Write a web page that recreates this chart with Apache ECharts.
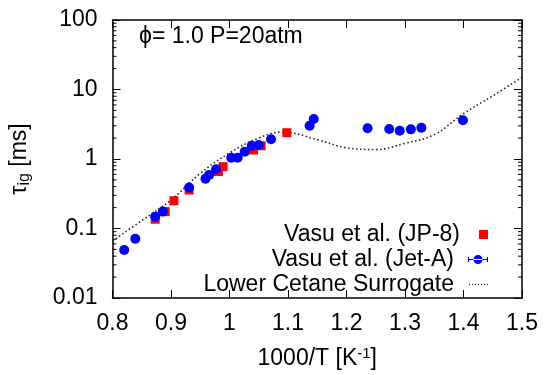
<!DOCTYPE html>
<html>
<head>
<meta charset="utf-8">
<script src="https://cdn.jsdelivr.net/npm/echarts@6/dist/echarts.min.js"></script>
<style>
  html, body { margin: 0; padding: 0; background: #fff; }
  #main { width: 544px; height: 375px; }
</style>
</head>
<body>
<div id="main"></div>
<script>
// Vasu et al. JP-8 (1000/T, tau in ms)
var jp8X = [0.873, 0.890, 0.905, 0.931, 0.981, 0.989, 1.041, 1.054, 1.098];
var jp8Y = [0.136, 0.175, 0.251, 0.358, 0.66, 0.775, 1.35, 1.55, 2.39];

// Vasu et al. Jet-A
var jetX = [0.820, 0.839, 0.873, 0.886, 0.931, 0.959, 0.965, 0.977, 1.003, 1.014, 1.026, 1.038, 1.050, 1.071, 1.137, 1.144, 1.236, 1.273, 1.291, 1.310, 1.328, 1.399];
var jetY = [0.049, 0.071, 0.148, 0.175, 0.39, 0.52, 0.59, 0.71, 1.04, 1.04, 1.27, 1.55, 1.59, 1.92, 3.01, 3.77, 2.77, 2.70, 2.55, 2.67, 2.82, 3.61];

// Lower cetane surrogate model curve
var modelX = [0.80, 0.85, 0.90, 0.95, 1.00, 1.05, 1.09, 1.15, 1.20, 1.25, 1.30, 1.35, 1.40, 1.45, 1.50];
var modelY = [0.066, 0.13, 0.257, 0.62, 1.22, 2.0, 2.45, 1.9, 1.45, 1.37, 1.68, 2.24, 4.5, 8.1, 15];

// log minor tick positions
var minorVals = [0.02, 0.03, 0.04, 0.05, 0.06, 0.07, 0.08, 0.09,
  0.2, 0.3, 0.4, 0.5, 0.6, 0.7, 0.8, 0.9,
  2, 3, 4, 5, 6, 7, 8, 9,
  20, 30, 40, 50, 60, 70, 80, 90];

function zip(xs, ys) {
  return xs.map(function (x, i) { return [x, ys[i]]; });
}

var FONT = 'Liberation Sans, Arial, Helvetica, sans-serif';
var FS = 23;

var chart = echarts.init(document.getElementById('main'));
var option = {
  animation: false,
  textStyle: { fontFamily: FONT },
  grid: { left: 112, right: 22, top: 20, bottom: 77 },
  graphic: [{
    type: 'text',
    left: 139,
    top: 25,
    style: { text: 'ϕ= 1.0 P=20atm', fontSize: FS, fontFamily: FONT, fill: '#000' }
  }],
  legend: [{
    data: ['Vasu et al. (JP-8)'],
    orient: 'vertical', align: 'right', right: 51, top: 218,
    itemWidth: 9, itemHeight: 9, icon: 'rect',
    itemStyle: { opacity: 1 },
    textStyle: { fontSize: FS, color: '#000', fontFamily: FONT, padding: [0, 14, 0, 0] },
    selectedMode: false
  }, {
    data: [{
      name: 'Vasu et al. (Jet-A)',
      icon: 'path://M0,4.4h20v1.2h-20z M0,2.5h1.2v5h-1.2z M18.8,2.5h1.2v5h-1.2z M5.5,5a4.5,4.5 0 1,0 9,0a4.5,4.5 0 1,0 -9,0z'
    }],
    orient: 'vertical', align: 'right', right: 51, top: 243,
    itemWidth: 20, itemHeight: 10,
    textStyle: { fontSize: FS, color: '#000', fontFamily: FONT, padding: [0, 9, 0, 0] },
    selectedMode: false
  }, {
    data: [{
      name: 'Lower Cetane Surrogate',
      icon: 'path://M0,0h1v1h-1z M3,0h1v1h-1z M6,0h1v1h-1z M9,0h1v1h-1z M12,0h1v1h-1z M15,0h1v1h-1z M18,0h1v1h-1z'
    }],
    orient: 'vertical', align: 'right', right: 51, top: 268,
    itemWidth: 19, itemHeight: 1.2,
    itemStyle: { color: '#222' },
    textStyle: { fontSize: FS, color: '#000', fontFamily: FONT, padding: [0, 10, 0, 0] },
    selectedMode: false
  }],
  xAxis: [{
    type: 'value',
    min: 0.8, max: 1.5, interval: 0.1,
    name: '{a|1000/T [K}{s|-1}{a|]}',
    nameLocation: 'middle',
    nameGap: 48,
    nameTextStyle: {
      rich: {
        a: { fontSize: FS, fontFamily: FONT, color: '#000' },
        s: { fontSize: 15, fontFamily: FONT, color: '#000', verticalAlign: 'top', padding: [0, 0, 10, 0] }
      }
    },
    axisLine: { lineStyle: { color: '#000', width: 1.5 } },
    axisTick: { inside: true, length: 8, lineStyle: { color: '#000' } },
    axisLabel: { fontSize: FS, color: '#000', margin: 14, fontFamily: FONT },
    splitLine: { show: false }
  }, {
    type: 'value', position: 'top',
    min: 0.8, max: 1.5, interval: 0.1,
    axisLine: { lineStyle: { color: '#000', width: 1.5 } },
    axisTick: { inside: true, length: 8, lineStyle: { color: '#000' } },
    axisLabel: { show: false },
    splitLine: { show: false }
  }],
  yAxis: [{
    type: 'log', logBase: 10,
    min: 0.01, max: 100,
    name: '{t|τ}{s|ig}{t| [ms]}',
    nameLocation: 'middle',
    nameGap: 80,
    nameRotate: 90,
    nameTextStyle: {
      rich: {
        t: { fontSize: FS, fontFamily: FONT, color: '#000' },
        s: { fontSize: 16, fontFamily: FONT, color: '#000', verticalAlign: 'bottom', padding: [10, 0, 0, 0] }
      }
    },
    axisLine: { lineStyle: { color: '#000', width: 1.5 } },
    axisTick: { inside: true, length: 8, lineStyle: { color: '#000' } },
    axisLabel: { fontSize: FS, color: '#000', margin: 15, fontFamily: FONT },
    splitLine: { show: false }
  }, {
    type: 'log', logBase: 10, position: 'right',
    min: 0.01, max: 100,
    axisLine: { lineStyle: { color: '#000', width: 1.5 } },
    axisTick: { inside: true, length: 8, lineStyle: { color: '#000' } },
    axisLabel: { show: false },
    splitLine: { show: false }
  }],
  series: [{
    name: 'Lower Cetane Surrogate',
    type: 'line',
    data: zip(modelX, modelY),
    smooth: 0.4,
    symbol: 'none',
    showSymbol: false,
    lineStyle: { color: '#222', width: 1.6, type: [1.5, 2.5] },
    itemStyle: { color: '#222' },
    z: 2
  }, {
    name: 'Vasu et al. (JP-8)',
    type: 'scatter',
    data: zip(jp8X, jp8Y),
    symbol: 'rect',
    symbolSize: 9,
    itemStyle: { color: '#ff0000', opacity: 1 },
    z: 3
  }, {
    name: 'Vasu et al. (Jet-A)',
    type: 'scatter',
    data: zip(jetX, jetY),
    symbol: 'circle',
    symbolSize: 10,
    itemStyle: { color: '#0000ff', opacity: 1 },
    z: 4
  }, {
    name: 'minor',
    type: 'custom',
    silent: true,
    data: minorVals.map(function (v) { return [0.8, v]; }),
    renderItem: function (params, api) {
      var cs = params.coordSys;
      var p = api.coord([0.8, api.value(1)]);
      var y = p[1];
      var st = { stroke: '#000', lineWidth: 1 };
      return {
        type: 'group',
        children: [
          { type: 'line', shape: { x1: cs.x, y1: y, x2: cs.x + 4, y2: y }, style: st },
          { type: 'line', shape: { x1: cs.x + cs.width, y1: y, x2: cs.x + cs.width - 4, y2: y }, style: st }
        ]
      };
    },
    z: 1
  }]
};
chart.setOption(option);
</script>
</body>
</html>
